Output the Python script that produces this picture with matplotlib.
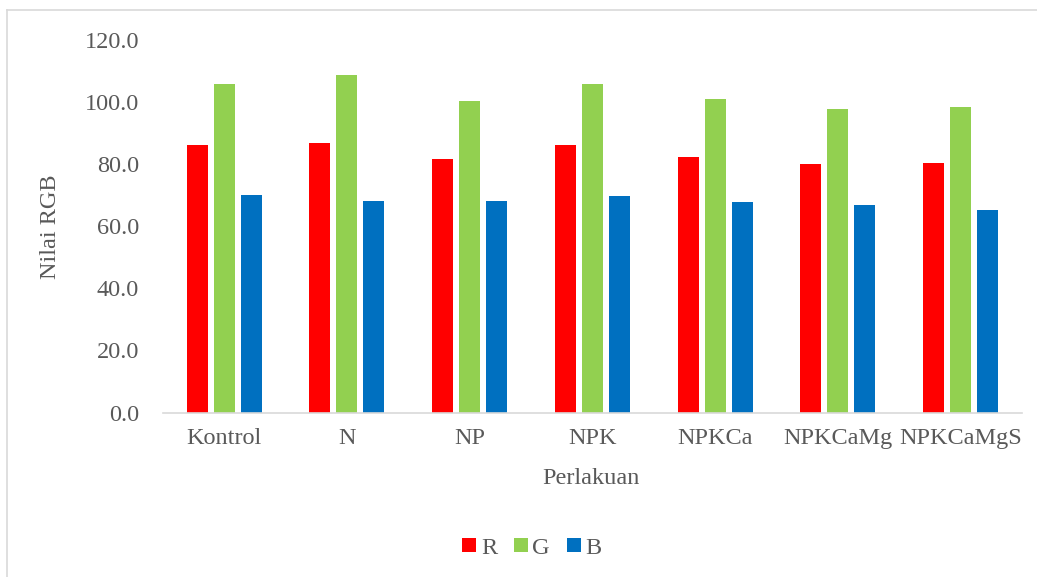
import matplotlib.pyplot as plt
import numpy as np
from matplotlib.lines import Line2D

categories = ['Kontrol', 'N', 'NP', 'NPK', 'NPKCa', 'NPKCaMg', 'NPKCaMgS']
r_vals = [86.2, 86.7, 81.6, 86.2, 82.3, 79.9, 80.4]
g_vals = [105.7, 108.7, 100.2, 105.7, 101.0, 97.9, 98.5]
b_vals = [70.1, 68.1, 68.1, 69.6, 67.7, 66.7, 65.1]

plt.rcParams['font.family'] = ['Liberation Serif', 'DejaVu Serif']
txt = '#595959'
fs = 17.5

fig = plt.figure(figsize=(10.37, 5.77), dpi=100)
ax = fig.add_axes([0.157, 0.285, 0.8285, 0.6457])

x = np.arange(len(categories))
w = 0.171
ax.bar(x - 0.22, r_vals, w, color='#FF0000', label='R')
ax.bar(x, g_vals, w, color='#92D050', label='G')
ax.bar(x + 0.22, b_vals, w, color='#0070C0', label='B')

ax.set_xlim(-0.5, len(categories) - 0.5)
ax.set_ylim(0, 120)
ax.set_yticks(np.arange(0, 121, 20))
ax.set_yticklabels(['%.1f' % v for v in np.arange(0, 121, 20)])
ax.set_xticks(x)
ax.set_xticklabels(categories)
ax.tick_params(axis='both', length=0, labelsize=fs, labelcolor=txt)
ax.tick_params(axis='y', pad=17)
ax.tick_params(axis='x', pad=11)

for s in ['top', 'right', 'left']:
    ax.spines[s].set_visible(False)
ax.spines['bottom'].set_color('#d9d9d9')
ax.spines['bottom'].set_linewidth(1.2)

fig.text(50 / 1037, 1 - 227 / 577, 'Nilai RGB', rotation=90, ha='center', va='center',
         fontsize=fs, color=txt)
fig.text(591 / 1037, 1 - 478 / 577, 'Perlakuan', ha='center', va='center',
         fontsize=fs, color=txt)

leg = fig.legend(loc='center', bbox_to_anchor=(532 / 1037, 1 - 548 / 577), ncol=3,
                 frameon=False, fontsize=fs, handlelength=0.56, handleheight=0.56,
                 handletextpad=0.2, columnspacing=0.7, borderpad=0)
for t in leg.get_texts():
    t.set_color(txt)

# chart frame (left and top edges visible)
fig.add_artist(Line2D([7 / 1037, 7 / 1037], [0, 1 - 10 / 577], color='#d9d9d9', lw=1.2))
fig.add_artist(Line2D([7 / 1037, 1], [1 - 10 / 577, 1 - 10 / 577], color='#d9d9d9', lw=1.2))

fig.savefig('out.png', dpi=100)
